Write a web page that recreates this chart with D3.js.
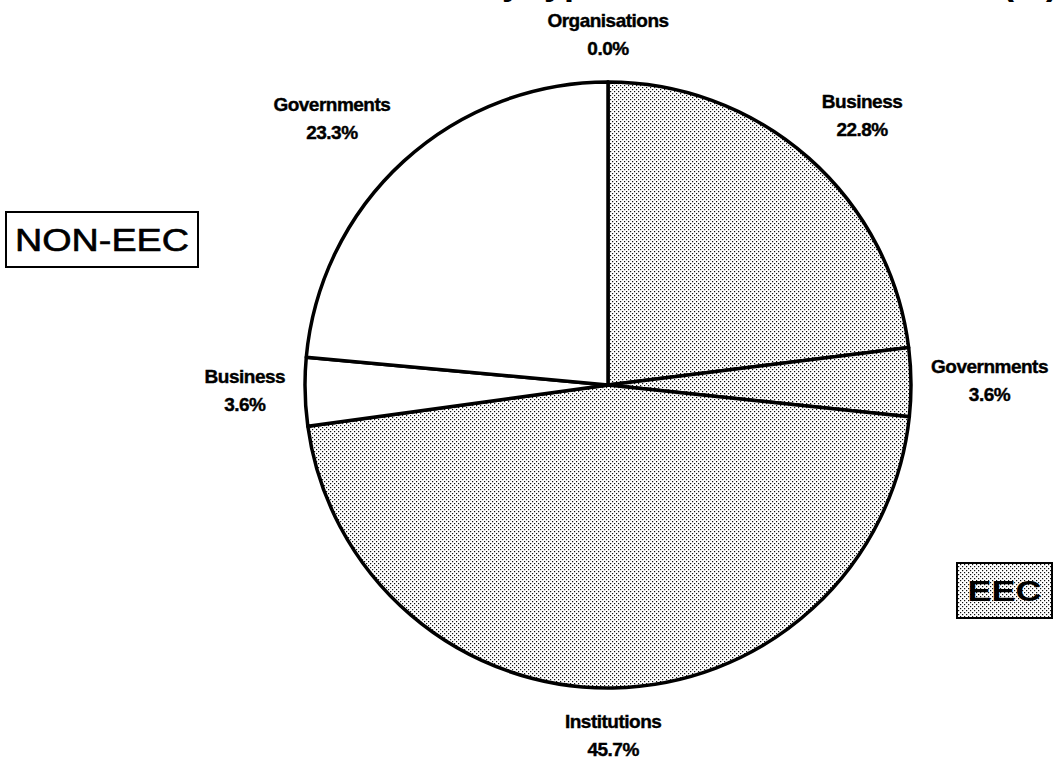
<!DOCTYPE html>
<html>
<head>
<meta charset="utf-8">
<script src="https://cdn.jsdelivr.net/npm/d3@7"></script>
<style>
  html, body { margin: 0; padding: 0; background: #fff; }
  svg { display: block; }
  text { font-family: "Liberation Sans", Arial, Helvetica, sans-serif; fill: #000; }
</style>
</head>
<body>
<svg id="chart" width="1059" height="775"></svg>
<script>
// ---- Data ----
const titleText = "Contracts by type of institution and area (%)";
const categories = ["Organisations", "Business", "Governments", "Institutions", "Business", "Governments"];
const groups = ["EEC", "EEC", "EEC", "EEC", "NON-EEC", "NON-EEC"];
const values = [0.0, 22.8, 3.6, 45.7, 3.6, 23.3];
const legendGroups = ["NON-EEC", "EEC"];

// ---- Layout ----
const W = 1059, H = 775;
const cx = 608, cy = 385, R = 303;
const svg = d3.select("#chart");

const defs = svg.append("defs");
const pat = defs.append("pattern")
  .attr("id", "dots").attr("patternUnits", "userSpaceOnUse")
  .attr("width", 4).attr("height", 4);
pat.append("rect").attr("width", 4).attr("height", 4).attr("fill", "#fff");
pat.append("rect").attr("x", 0).attr("y", 0).attr("width", 1.2).attr("height", 1.2).attr("fill", "#111");
pat.append("rect").attr("x", 2).attr("y", 2).attr("width", 1.2).attr("height", 1.2).attr("fill", "#111");

const fillFor = g => g === "EEC" ? "url(#dots)" : "#fff";

// Title (cut at the top edge, as in the reference)
svg.append("text")
  .attr("x", 302).attr("y", -6)
  .attr("font-size", 36).attr("font-weight", "bold")
  .text(titleText);

const data = categories.map((c, i) => ({ category: c, group: groups[i], value: values[i] }));

const pie = d3.pie().sort(null).value(d => d.value);
const arcs = pie(data);
const arc = d3.arc().innerRadius(0).outerRadius(R);

const g = svg.append("g").attr("transform", `translate(${cx},${cy})`);
g.selectAll("path.slice").data(arcs).join("path")
  .attr("class", "slice")
  .attr("d", arc)
  .attr("fill", d => fillFor(d.data.group))
  .attr("stroke", "#000")
  .attr("stroke-width", 3.5)
  .attr("stroke-linejoin", "round");

// Labels
const lr = R + 20, lineH = 28;
arcs.forEach(d => {
  const a = (d.startAngle + d.endAngle) / 2;
  const s = Math.sin(a), c = Math.cos(a);
  const px = cx + lr * s, py = cy - lr * c;
  const lines = [d.data.category, d.data.value.toFixed(1) + "%"];
  let y0;
  if (c > 0.3) y0 = py - 7 - lineH;           // above
  else if (c < -0.3) y0 = py + 20;            // below
  else y0 = py - 9;                            // side
  const lg = svg.append("g");
  const t = lg.append("text")
    .attr("text-anchor", "middle")
    .attr("font-size", 19).attr("font-weight", "bold")
    .attr("letter-spacing", -0.5)
    .attr("stroke", "#000").attr("stroke-width", 0.4);
  lines.forEach((ln, i) => {
    t.append("tspan").attr("x", 0).attr("y", y0 + i * lineH).text(ln);
  });
  const w = t.node().getBBox().width;
  let bx = px;
  if (s > 0.3) bx = px + w / 2;
  else if (s < -0.3) bx = px - w / 2;
  lg.attr("transform", `translate(${bx},0)`);
});

// Area boxes
const boxSpec = {
  "NON-EEC": { x: 6, y: 212, w: 192, h: 55, tl: 174, fs: 31, fw: "normal", sw: 0.6 },
  "EEC": { x: 957, y: 563, w: 95, h: 55, tl: 74, fs: 29, fw: "bold", sw: 0 }
};
legendGroups.forEach(k => {
  const b = boxSpec[k];
  svg.append("rect")
    .attr("x", b.x).attr("y", b.y).attr("width", b.w).attr("height", b.h)
    .attr("fill", fillFor(k)).attr("stroke", "#000").attr("stroke-width", 2);
  svg.append("text")
    .attr("x", b.x + b.w / 2).attr("y", b.y + b.h / 2 + b.fs * 0.36)
    .attr("text-anchor", "middle")
    .attr("font-size", b.fs).attr("font-weight", b.fw)
    .attr("stroke", "#000").attr("stroke-width", b.sw)
    .attr("textLength", b.tl).attr("lengthAdjust", "spacingAndGlyphs")
    .text(k);
});
</script>
</body>
</html>
